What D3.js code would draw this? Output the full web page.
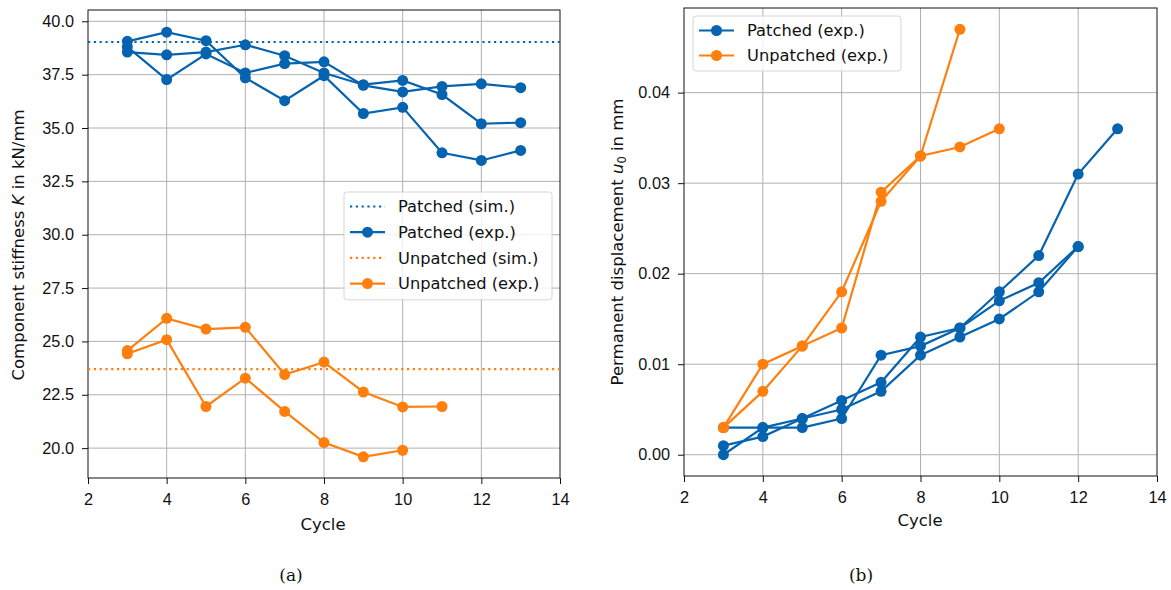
<!DOCTYPE html>
<html>
<head>
<meta charset="utf-8">
<script src="https://cdn.jsdelivr.net/npm/d3@7"></script>
<style>
  body { margin: 0; background: #fff; }
  svg { display: block; font-family: "DejaVu Sans", sans-serif; }
  .grid line { stroke: #b0b0b0; stroke-width: 1; }
  .tick text { font-size: 16.3px; fill: #111; }
</style>
</head>
<body>
<svg id="chart" width="1171" height="590"></svg>
<script>
// cycles (x values)
const cycles = [3, 4, 5, 6, 7, 8, 9, 10, 11, 12, 13];

// (a) component stiffness K in kN/mm
const patchedSimK = 39.03;
const unpatchedSimK = 23.7;
const patchedExpK = [
  [39.06, 39.49, 39.09, 37.35, 36.28, 37.45, 35.68, 35.97, 33.84, 33.48, 33.95],
  [38.56, 38.43, 38.56, 38.90, 38.39, 37.58, 37.03, 37.23, 36.57, 35.20, 35.25],
  [38.80, 37.27, 38.47, 37.58, 38.02, 38.10, 37.00, 36.69, 36.95, 37.07, 36.89]
];
const unpatchedExpK = [
  [24.57, 26.08, 25.58, 25.66, 23.45, 24.03, 22.63, 21.93, 21.95],
  [24.42, 25.08, 21.95, 23.28, 21.72, 20.26, 19.59, 19.90]
];

// (b) permanent displacement u0 in mm
const patchedExpU = [
  [0.003, 0.003, 0.004, 0.006, 0.008, 0.013, 0.014, 0.018, 0.022, 0.031, 0.036],
  [0.001, 0.002, 0.004, 0.005, 0.007, 0.011, 0.013, 0.015, 0.018, 0.023],
  [0.000, 0.003, 0.003, 0.004, 0.011, 0.012, 0.014, 0.017, 0.019, 0.023]
];
const unpatchedExpU = [
  [0.003, 0.010, 0.012, 0.018, 0.028, 0.033, 0.034, 0.036],
  [0.003, 0.007, 0.012, 0.014, 0.029, 0.033, 0.047]
];

const kTicks = [20.0, 22.5, 25.0, 27.5, 30.0, 32.5, 35.0, 37.5, 40.0];
const uTicks = [0.00, 0.01, 0.02, 0.03, 0.04];
const xTicks = [2, 4, 6, 8, 10, 12, 14];

const BLUE = '#0563af';
const ORANGE = '#ff7f0e';

const svg = d3.select('#chart');

function drawPanel(opts) {
  const { left, right, top, bottom, yDomain, yTicks, yFmt } = opts;
  const x = d3.scaleLinear().domain([2, 14]).range([left, right]);
  const y = d3.scaleLinear().domain(yDomain).range([bottom, top]);
  const g = svg.append('g');

  // grid
  const grid = g.append('g').attr('class', 'grid');
  grid.selectAll('.gx').data(xTicks.slice(1, -1)).join('line')
    .attr('x1', d => x(d)).attr('x2', d => x(d))
    .attr('y1', top).attr('y2', bottom);
  grid.selectAll('.gy').data(yTicks).join('line')
    .attr('x1', left).attr('x2', right)
    .attr('y1', d => y(d)).attr('y2', d => y(d));

  // axes
  const xAxis = g.append('g').attr('transform', `translate(0,${bottom})`)
    .call(d3.axisBottom(x).tickValues(xTicks).tickSizeOuter(0).tickSize(6).tickPadding(9));
  const yAxis = g.append('g').attr('transform', `translate(${left},0)`)
    .call(d3.axisLeft(y).tickValues(yTicks).tickFormat(yFmt).tickSizeOuter(0).tickSize(6).tickPadding(8));
  [xAxis, yAxis].forEach(a => {
    a.select('.domain').remove();
    a.selectAll('.tick line').attr('stroke', '#111').attr('stroke-width', 1);
  });

  // frame
  g.append('rect')
    .attr('x', left).attr('y', top)
    .attr('width', right - left).attr('height', bottom - top)
    .attr('fill', 'none').attr('stroke', '#111').attr('stroke-width', 1);

  const marks = g.append('g');
  return { x, y, g: marks };
}

function drawSim(p, val, color) {
  p.g.append('line')
    .attr('x1', p.x(2)).attr('x2', p.x(14))
    .attr('y1', p.y(val)).attr('y2', p.y(val))
    .attr('stroke', color).attr('stroke-width', 2.2)
    .attr('stroke-dasharray', '2.2,3.6');
}

function drawExp(p, series, color, r) {
  const line = d3.line().x((d, i) => p.x(cycles[i])).y(d => p.y(d));
  series.forEach(vals => {
    p.g.append('path').datum(vals)
      .attr('d', line)
      .attr('fill', 'none').attr('stroke', color).attr('stroke-width', 2.2);
    p.g.selectAll(null).data(vals).join('circle')
      .attr('cx', (d, i) => p.x(cycles[i]))
      .attr('cy', d => p.y(d))
      .attr('r', r).attr('fill', color);
  });
}

function drawLegend(x0, y0, w, rowH, items) {
  const h = items.length * rowH + 5;
  const g = svg.append('g').attr('transform', `translate(${x0},${y0})`);
  g.append('rect').attr('width', w).attr('height', h).attr('rx', 3)
    .attr('fill', 'white').attr('fill-opacity', 0.8)
    .attr('stroke', '#d6d6d6').attr('stroke-width', 1);
  items.forEach((it, i) => {
    const cy = 14.5 + i * rowH;
    const l = g.append('line').attr('x1', 6).attr('x2', 41).attr('y1', cy).attr('y2', cy)
      .attr('stroke', it.color).attr('stroke-width', 2.2);
    if (it.dotted) l.attr('stroke-dasharray', '2.2,3.6');
    else g.append('circle').attr('cx', 23.5).attr('cy', cy).attr('r', 5.5).attr('fill', it.color);
    g.append('text').attr('x', 54).attr('y', cy).attr('dy', '0.35em')
      .attr('font-size', 16.3).attr('fill', '#111').text(it.label);
  });
}

// ---- panel (a)
const pa = drawPanel({
  left: 88, right: 560, top: 10, bottom: 478,
  yDomain: [18.6, 40.53], yTicks: kTicks, yFmt: d3.format('.1f')
});
drawSim(pa, patchedSimK, BLUE);
drawExp(pa, patchedExpK, BLUE, 5.5);
drawSim(pa, unpatchedSimK, ORANGE);
drawExp(pa, unpatchedExpK, ORANGE, 5.5);
drawLegend(344, 192, 208, 25.7, [
  { label: 'Patched (sim.)', color: BLUE, dotted: true },
  { label: 'Patched (exp.)', color: BLUE },
  { label: 'Unpatched (sim.)', color: ORANGE, dotted: true },
  { label: 'Unpatched (exp.)', color: ORANGE }
]);

// ---- panel (b)
const pb = drawPanel({
  left: 684, right: 1157, top: 8, bottom: 476,
  yDomain: [-0.00235, 0.04935], yTicks: uTicks, yFmt: d3.format('.2f')
});
drawExp(pb, patchedExpU, BLUE, 5.5);
drawExp(pb, unpatchedExpU, ORANGE, 5.5);
drawLegend(693, 16, 208, 25, [
  { label: 'Patched (exp.)', color: BLUE },
  { label: 'Unpatched (exp.)', color: ORANGE }
]);

// axis labels
svg.append('text').attr('x', 323).attr('y', 530).attr('text-anchor', 'middle')
  .attr('font-size', 16.5).attr('fill', '#111').text('Cycle');
svg.append('text').attr('x', 920).attr('y', 526).attr('text-anchor', 'middle')
  .attr('font-size', 16.5).attr('fill', '#111').text('Cycle');

const ylA = svg.append('text').attr('transform', 'translate(24,245) rotate(-90)')
  .attr('text-anchor', 'middle').attr('font-size', 16.5).attr('fill', '#111');
ylA.append('tspan').text('Component stiffness ');
ylA.append('tspan').attr('font-style', 'italic').text('K');
ylA.append('tspan').text(' in kN/mm');

const ylB = svg.append('text').attr('transform', 'translate(623,242) rotate(-90)')
  .attr('text-anchor', 'middle').attr('font-size', 16.5).attr('fill', '#111');
ylB.append('tspan').text('Permanent displacement ');
ylB.append('tspan').attr('font-style', 'italic').text('u');
ylB.append('tspan').attr('font-size', 11.5).attr('dy', 3).text('0');
ylB.append('tspan').attr('dy', -3).text(' in mm');

// captions
svg.append('text').attr('x', 291).attr('y', 581).attr('text-anchor', 'middle')
  .attr('font-family', '"DejaVu Serif", serif').attr('font-size', 17).attr('fill', '#111').text('(a)');
svg.append('text').attr('x', 861).attr('y', 581).attr('text-anchor', 'middle')
  .attr('font-family', '"DejaVu Serif", serif').attr('font-size', 17).attr('fill', '#111').text('(b)');
</script>
</body>
</html>
